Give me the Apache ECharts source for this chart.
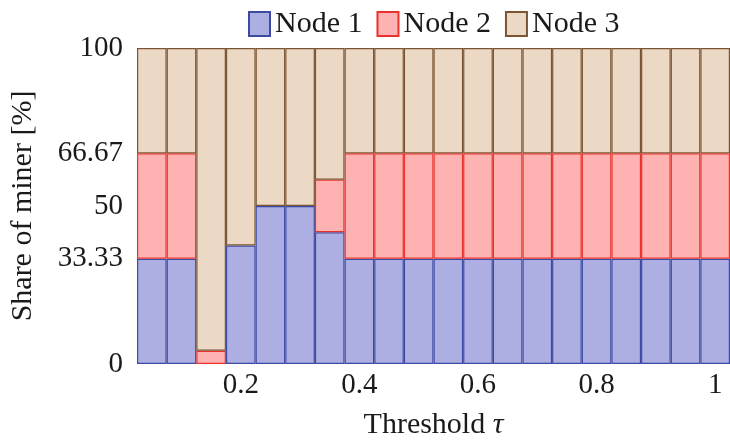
<!DOCTYPE html>
<html>
<head>
<meta charset="utf-8">
<script src="https://cdn.jsdelivr.net/npm/echarts@6/dist/echarts.min.js"></script>
<style>
html,body{margin:0;padding:0;background:#fff;}
#c{width:730px;height:445px;}
</style>
</head>
<body>
<div id="c"></div>
<script>
const thresholds = ['0.05','0.1','0.15','0.2','0.25','0.3','0.35','0.4','0.45','0.5','0.55','0.6','0.65','0.7','0.75','0.8','0.85','0.9','0.95','1'];
const xTickLabels = ['0.2','0.4','0.6','0.8','1'];
const yTickValues = [0, 33.33, 50, 66.67, 100];
const node1 = [33.33,33.33,0,37.5,50,50,41.67,33.33,33.33,33.33,33.33,33.33,33.33,33.33,33.33,33.33,33.33,33.33,33.33,33.33];
const node2 = [33.33,33.33,4.2,0,0,0,16.67,33.33,33.33,33.33,33.33,33.33,33.33,33.33,33.33,33.33,33.33,33.33,33.33,33.33];
const node3 = [33.34,33.34,95.8,62.5,50,50,41.66,33.34,33.34,33.34,33.34,33.34,33.34,33.34,33.34,33.34,33.34,33.34,33.34,33.34];
const seriesNames = ['Node 1','Node 2','Node 3'];

const FONT = 'Liberation Serif';
const TXT = '#1a1a1a';
const styles = [
  {fill:'#adaee2', stroke:'#3c4ba2'},
  {fill:'#ffb2b2', stroke:'#e8322c'},
  {fill:'#ebd9c6', stroke:'#7b5533'}
];
const values = [node1, node2, node3];

const chart = echarts.init(document.getElementById('c'), null, {renderer:'canvas'});
chart.setOption({
  animation:false,
  backgroundColor:'#ffffff',
  grid:{left:137, right:-3, top:48, bottom:79, containLabel:false},
  legend:{
    left:243, top:4,
    itemWidth:21, itemHeight:24, itemGap:14,
    icon:'rect',
    textStyle:{fontFamily:FONT, fontSize:30, color:TXT},
    data:seriesNames
  },
  xAxis:{
    type:'category',
    data:thresholds,
    boundaryGap:true,
    axisLine:{show:false},
    axisTick:{show:false},
    splitLine:{show:false},
    axisLabel:{
      interval:function(i, v){ return xTickLabels.indexOf(v) >= 0; },
      fontFamily:FONT, fontSize:29, color:TXT, margin:7
    },
    name:'Threshold {i|τ}',
    nameLocation:'middle',
    nameGap:46,
    nameTextStyle:{fontFamily:FONT, fontSize:30, color:TXT,
      rich:{i:{fontFamily:FONT, fontSize:30, fontStyle:'italic', color:TXT}}}
  },
  yAxis:{
    type:'value',
    min:0, max:100,
    axisLine:{show:false},
    axisTick:{show:false},
    splitLine:{show:false},
    axisLabel:{
      customValues:yTickValues,
      formatter:function(v){ return String(v); },
      fontFamily:FONT, fontSize:29, color:TXT, margin:14
    },
    name:'Share of miner [%]',
    nameLocation:'middle',
    nameGap:99,
    nameTextStyle:{fontFamily:FONT, fontSize:30, color:TXT}
  },
  series: seriesNames.map(function(n, k){
    return {
      name:n,
      type:'bar',
      stack:'total',
      barWidth:'100%',
      barCategoryGap:'0%',
      data: values[k].map(function(v){ return v === 0 ? '-' : v; }),
      itemStyle:{color:styles[k].fill, borderColor:styles[k].stroke, borderWidth:1.2},
      emphasis:{disabled:true}
    };
  })
});
</script>
</body>
</html>
